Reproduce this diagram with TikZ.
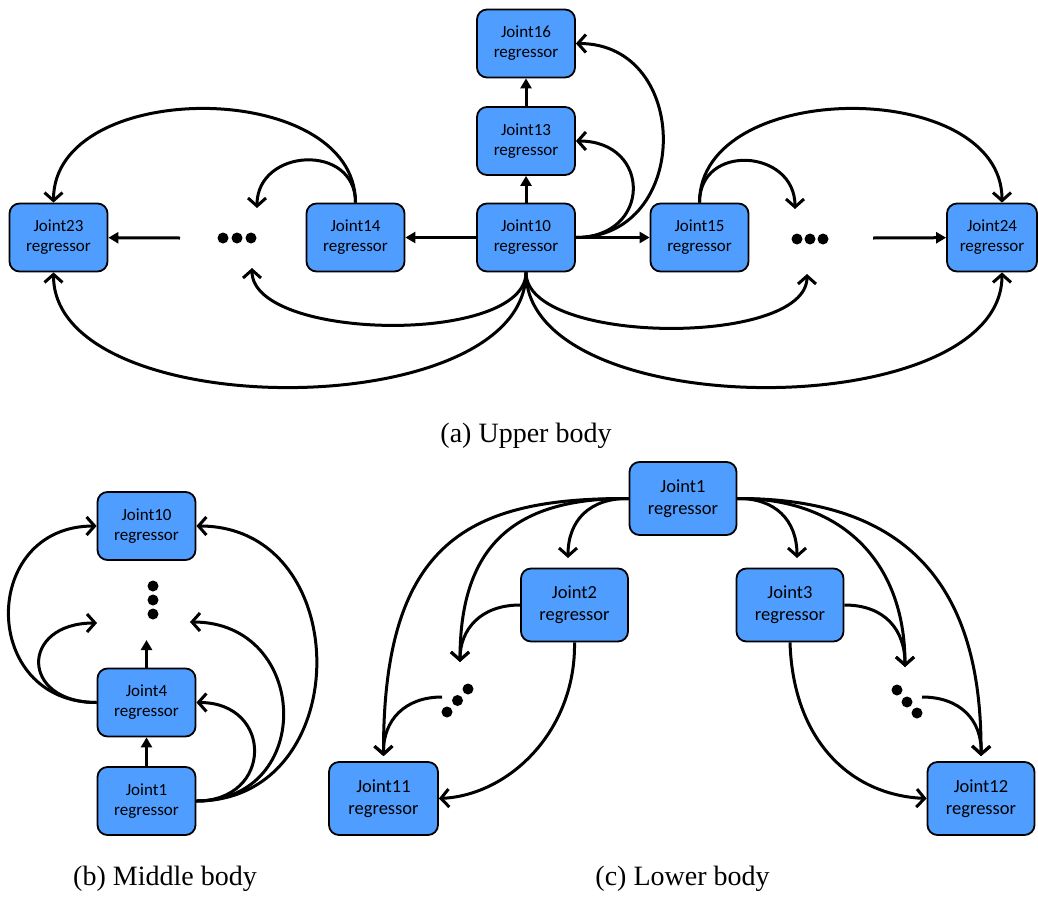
\documentclass[tikz,border=0pt]{standalone}
\usepackage{fontspec}
\setmainfont{Liberation Serif}
\newfontfamily\boxfont{Carlito}
\usetikzlibrary{arrows.meta}
\definecolor{boxblue}{RGB}{79,158,255}
\tikzset{
  reg/.style={draw=black, line width=1.8pt, fill=boxblue, rounded corners=10pt,
    minimum width=98pt, minimum height=68pt, align=center, inner sep=0pt,
    font=\boxfont\fontsize{17}{20}\selectfont},
  regL/.style={reg, minimum width=107pt, minimum height=73pt,
    font=\boxfont\fontsize{18.5}{22}\selectfont},
  jdot/.style={circle, fill=black, inner sep=0pt, minimum size=11pt},
  curv/.style={line width=3pt, -{Straight Barb[length=8pt,width=18pt]}},
  strt/.style={line width=3pt, -{Triangle[length=10pt,width=11pt]}},
  captxt/.style={anchor=base, font=\fontsize{28}{34}\selectfont, inner sep=0pt},
}
\begin{document}
\begin{tikzpicture}[x=1pt,y=-1pt]
\useasboundingbox (0,0) rectangle (1038,897);
% ---------- (a) Upper body ----------
\node[reg] (u16) at (526,43.5) {Joint16\\regressor};
\node[reg] (u13) at (526,141) {Joint13\\regressor};
\node[reg] (u10) at (526,237.5) {Joint10\\regressor};
\node[reg] (u14) at (355.5,237.5) {Joint14\\regressor};
\node[reg] (u15) at (699.5,237.5) {Joint15\\regressor};
\node[reg] (u23) at (58.5,237.5) {Joint23\\regressor};
\node[reg, minimum width=90pt] (u24) at (992,237.5) {Joint24\\regressor};
\node[jdot] (dl1) at (223,238) {};
\node[jdot] (dl2) at (237,238) {};
\node[jdot] (dl3) at (251,238) {};
\node[jdot] (dr1) at (797,239) {};
\node[jdot] (dr2) at (810,239) {};
\node[jdot] (dr3) at (823,239) {};
\coordinate (dlT) at (257,208);
\coordinate (dlB) at (252,268);
\coordinate (dlE) at (180,238);
\coordinate (drT) at (795,209);
\coordinate (drB) at (807,274);
\coordinate (drW) at (873,238);
\draw[strt] (u10) -- (u13);
\draw[strt] (u13) -- (u16);
\draw[strt] (u10) -- (u14);
\draw[strt] (u10) -- (u15);
\draw[strt] (dlE) -- (u23);
\draw[strt] (drW) -- (u24);
\draw[curv] (u10.east) .. controls +(116,0) and +(116,0) .. (u16.east);
\draw[curv] (u10.east) .. controls +(76,0) and +(76,0) .. (u13.east);
\draw[curv] (u14.north) .. controls +(0,-125) and +(0,-125) .. ([xshift=-5pt]u23.north);
\draw[curv] (u14.north) .. controls +(0,-60) and +(0,-60) .. (dlT);
\draw[curv] (u15.north) .. controls +(0,-60) and +(0,-60) .. (drT);
\draw[curv] (u15.north) .. controls +(0,-125) and +(0,-125) .. ([xshift=10pt]u24.north);
\draw[curv] (u10.south) .. controls +(0,73) and +(0,73) .. (dlB);
\draw[curv] (u10.south) .. controls +(0,153) and +(0,153) .. ([xshift=-5pt]u23.south);
\draw[curv] (u10.south) .. controls +(0,73) and +(0,73) .. (drB);
\draw[curv] (u10.south) .. controls +(0,153) and +(0,153) .. ([xshift=10pt]u24.south);
\node[captxt] (capa) at (526,442) {(a) Upper body};
% ---------- (b) Middle body ----------
\node[reg] (m10) at (146.5,526) {Joint10\\regressor};
\node[reg] (m4) at (146.5,702.5) {Joint4\\regressor};
\node[reg] (m1) at (146.5,801) {Joint1\\regressor};
\node[jdot] (md1) at (153,586) {};
\node[jdot] (md2) at (153,600) {};
\node[jdot] (md3) at (153,614) {};
\coordinate (mU) at (146.5,640);
\coordinate (mL) at (97,623);
\coordinate (mR) at (190,622);
\draw[strt] (m1) -- (m4);
\draw[strt] (m4.north) -- (mU);
\draw[curv] (m4.west) .. controls +(-117,0) and +(-117,0) .. (m10.west);
\draw[curv] (m4.west) .. controls +(-77,0) and +(-77,0) .. (mL);
\draw[curv] (m1.east) .. controls +(77,0) and +(77,0) .. (m4.east);
\draw[curv] (m1.east) .. controls +(120,0) and +(120,0) .. (mR);
\draw[curv] (m1.east) .. controls +(160,0) and +(160,0) .. (m10.east);
\node[captxt] (capb) at (165,885) {(b) Middle body};
% ---------- (c) Lower body ----------
\node[regL] (l1) at (683,498.5) {Joint1\\regressor};
\node[regL] (l2) at (574.5,605) {Joint2\\regressor};
\node[regL] (l3) at (790,605) {Joint3\\regressor};
\node[regL, minimum width=109pt] (l11) at (383.5,798.5) {Joint11\\regressor};
\node[regL] (l12) at (981,798.5) {Joint12\\regressor};
\node[jdot] (ld1) at (447,712) {};
\node[jdot] (ld2) at (457.5,700.5) {};
\node[jdot] (ld3) at (468,689) {};
\node[jdot] (rd1) at (897,690) {};
\node[jdot] (rd2) at (907,702) {};
\node[jdot] (rd3) at (917,713) {};
\coordinate (llT) at (460,662);
\coordinate (llS) at (442,697);
\coordinate (lrT) at (905,667);
\coordinate (lrS) at (922,697);
\coordinate (l2in) at (568,558);
\coordinate (l3in) at (797,558);
\draw[curv] (l1.west) .. controls (470,498) and (383,540) .. ([yshift=5pt]l11.north);
\draw[curv] (l1.west) .. controls (520,498) and (460,540) .. (llT);
\draw[curv] (l1.west) .. controls (590,498) and (568,520) .. (l2in);
\draw[curv] (l2.west) .. controls (480,605) and (460,630) .. (llT);
\draw[curv] (llS) .. controls (405,697) and (383,720) .. ([yshift=5pt]l11.north);
\draw[curv] (l2.south) .. controls (576,730) and (510,795) .. (l11.east);
\draw[curv] (l1.east) .. controls (775,498) and (797,520) .. (l3in);
\draw[curv] (l1.east) .. controls (840,498) and (905,560) .. (lrT);
\draw[curv] (l1.east) .. controls (920,498) and (982,600) .. ([yshift=5pt]l12.north);
\draw[curv] (l3.east) .. controls (885,605) and (905,630) .. (lrT);
\draw[curv] (lrS) .. controls (960,697) and (982,720) .. ([yshift=5pt]l12.north);
\draw[curv] (l3.south) .. controls (793,740) and (850,795) .. (l12.west);
\node[captxt] (capc) at (682.5,885) {(c) Lower body};
\end{tikzpicture}
\end{document}
